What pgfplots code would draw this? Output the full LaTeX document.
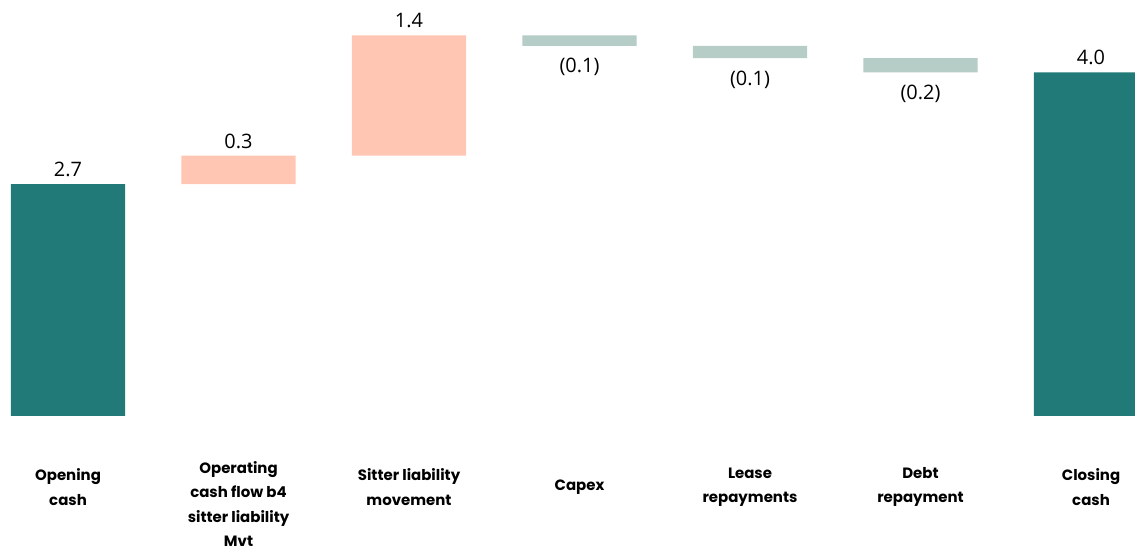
\documentclass[border=0pt]{standalone}
\usepackage{pgfplots}
\pgfplotsset{compat=1.18}
\usepackage{pgfplotstable}
\usepackage{fontspec}
\setmainfont{Poppins}
\newfontfamily\valfont{Open Sans}
\definecolor{tealA}{HTML}{217A78}
\definecolor{salmonA}{HTML}{FFC6B3}
\definecolor{greyA}{HTML}{B5CCC7}

\pgfplotstableread{
x base teal salmon grey
0 0     2.7 0    0
1 2.7   0   0.33 0
2 3.03  0   1.40 0
3 4.31  0   0    0.12
4 4.165 0   0    0.145
5 4.0   0   0    0.165
6 0     4.0 0    0
}\wfdata

\tikzset{val/.style={font=\valfont\fontsize{20}{24}\selectfont, inner sep=0pt}}

\begin{document}
\begin{tikzpicture}
\begin{axis}[
  scale only axis, width=1135bp, height=548bp,
  xmin=-0.399, xmax=6.258, ymin=-1.537, ymax=4.843,
  ybar stacked, bar width=0.67,
  axis line style={draw=none},
  major tick length=0pt,
  ytick=\empty,
  xtick={0,2,3,4,5,6},
  xticklabels={{Opening\\cash}, {Sitter liability\\movement}, {Capex}, {Lease\\repayments}, {Debt\\repayment}, {Closing\\cash}},
  xticklabel style={anchor=center, yshift=61bp, align=center,
    font=\bfseries\fontsize{15}{24.5}\selectfont},
  extra x ticks={1},
  extra x tick labels={{Operating\\cash flow b4\\sitter liability\\Mvt}},
  extra x tick style={xticklabel style={yshift=-17bp}},
]
\addplot[draw=none, fill=white, fill opacity=0] table[x=x, y=base] {\wfdata};
\addplot[draw=none, fill=tealA] table[x=x, y=teal] {\wfdata};
\addplot[draw=none, fill=salmonA] table[x=x, y=salmon] {\wfdata};
\addplot[draw=none, fill=greyA] table[x=x, y=grey] {\wfdata};

\node[val, anchor=base, yshift=7.5bp] at (axis cs:0,2.7) {2.7};
\node[val, anchor=base, yshift=7.5bp] at (axis cs:1,3.03) {0.3};
\node[val, anchor=base, yshift=7.5bp] at (axis cs:2,4.43) {1.4};
\node[val, anchor=north, yshift=-12.5bp] at (axis cs:3,4.31) {(0.1)};
\node[val, anchor=north, yshift=-12.5bp] at (axis cs:4,4.165) {(0.1)};
\node[val, anchor=north, yshift=-12bp] at (axis cs:5,4.0) {(0.2)};
\node[val, anchor=base, yshift=7.5bp] at (axis cs:6,4.0) {4.0};
\end{axis}
\pgfresetboundingbox
\useasboundingbox (current axis.south west) rectangle (current axis.north east);
\end{tikzpicture}
\end{document}
